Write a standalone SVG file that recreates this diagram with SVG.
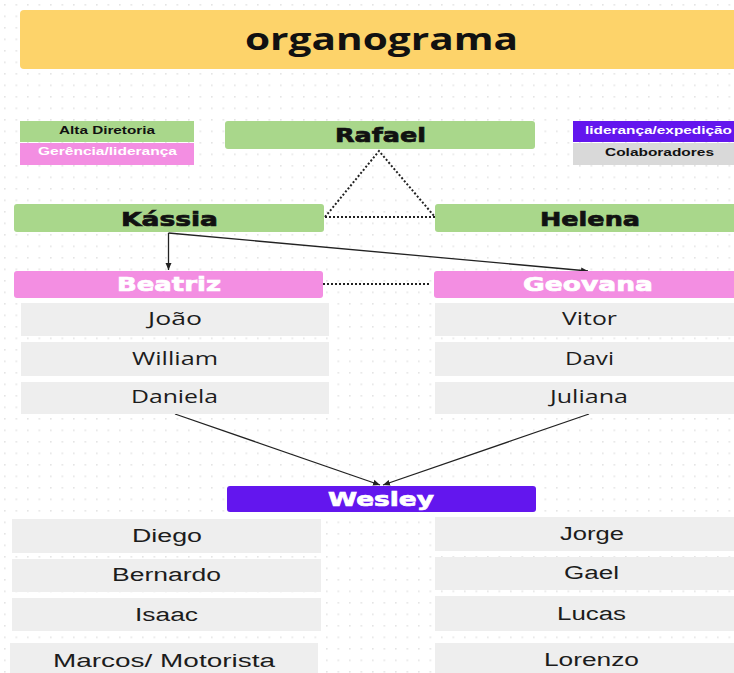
<svg xmlns="http://www.w3.org/2000/svg" width="734" height="673" viewBox="0 0 734 673">
<defs>
<pattern id="dots" x="4" y="4" width="11.5" height="11.5" patternUnits="userSpaceOnUse">
<rect x="0" y="0" width="1.6" height="1.6" fill="#e4e4e4"/>
</pattern>
<marker id="arr" markerWidth="8" markerHeight="8" refX="7" refY="4" orient="auto" markerUnits="userSpaceOnUse">
<path d="M0,1 L7,4 L0,7 Z" fill="#222"/>
</marker>
<style>
.green{fill:#a9d78b}
.pink{fill:#f38ee2}
.purple{fill:#6316ee}
.grey{fill:#eeeeee}
.lgrey{fill:#d9d9d9}
.hdr{font-family:"DejaVu Sans","Liberation Sans",sans-serif;font-weight:bold;font-size:20px;text-anchor:middle;stroke-width:0.7px}
.dark{fill:#111}
.hdr.dark{stroke:#111}
.white{fill:#ffffff}
.hdr.white{stroke:#ffffff}
.name{font-family:"Open Sans","Noto Sans",sans-serif;font-size:18px;fill:#1c1c1c;text-anchor:middle}
.name2{font-family:"Liberation Sans",Arial,sans-serif;font-size:18px;fill:#1c1c1c;text-anchor:middle}
.leg{font-family:"Liberation Sans",Arial,sans-serif;font-weight:bold;font-size:10.5px;text-anchor:middle}
.dot{fill:none;stroke:#222;stroke-width:2;stroke-dasharray:2 2}
.ln{fill:none;stroke:#222;stroke-width:1.3}
</style>
</defs>
<rect x="0" y="0" width="734" height="673" fill="#ffffff"/>
<rect x="0" y="0" width="734" height="673" fill="url(#dots)"/>

<g id="title">
<rect x="20" y="10" width="730" height="59" rx="4" fill="#fdd36a"/>
<text x="381.5" y="50" font-family="'Open Sans','Noto Sans',sans-serif" font-weight="bold" font-size="30" text-anchor="middle" fill="#111" textLength="273" lengthAdjust="spacingAndGlyphs">organograma</text>
</g>

<g id="legend-alta">
<rect x="20" y="121" width="174" height="21" class="green"/>
<text x="107" y="134" class="leg dark" font-weight="normal" textLength="96" lengthAdjust="spacingAndGlyphs">Alta Diretoria</text>
</g>
<g id="legend-gerencia">
<rect x="20" y="143" width="174" height="22" class="pink"/>
<text x="107.5" y="155" class="leg white" textLength="139" lengthAdjust="spacingAndGlyphs">Gerência/liderança</text>
</g>
<g id="legend-lideranca">
<rect x="573" y="121" width="170" height="21" class="purple"/>
<text x="658.5" y="134" class="leg white" textLength="147" lengthAdjust="spacingAndGlyphs">liderança/expedição</text>
</g>
<g id="legend-colab">
<rect x="573" y="143" width="170" height="22" class="lgrey"/>
<text x="659.5" y="156" class="leg dark" font-weight="normal" textLength="109" lengthAdjust="spacingAndGlyphs">Colaboradores</text>
</g>

<g id="connectors">
<polyline points="325,217 379,151 435,217" class="dot"/>
<line x1="325" y1="217" x2="435" y2="217" class="dot"/>
<line x1="323" y1="284" x2="431" y2="284" class="dot"/>
<line x1="168.5" y1="233" x2="168.5" y2="270" class="ln" marker-end="url(#arr)"/>
<line x1="168.5" y1="233" x2="588" y2="271" class="ln" marker-end="url(#arr)"/>
<line x1="175" y1="414" x2="380" y2="485" class="ln" marker-end="url(#arr)"/>
<line x1="589" y1="414" x2="383" y2="485" class="ln" marker-end="url(#arr)"/>
</g>

<g id="rafael">
<rect x="225" y="121" width="310" height="28" rx="3" class="green"/>
<text x="380.5" y="142" class="hdr dark" textLength="91" lengthAdjust="spacingAndGlyphs">Rafael</text>
</g>
<g id="kassia">
<rect x="14" y="204" width="310" height="28" rx="3" class="green"/>
<text x="169.5" y="226" class="hdr dark" font-size="21" textLength="97" lengthAdjust="spacingAndGlyphs">Kássia</text>
</g>
<g id="helena">
<rect x="435" y="204" width="310" height="28" rx="3" class="green"/>
<text x="590" y="226" class="hdr dark" font-size="21" textLength="100" lengthAdjust="spacingAndGlyphs">Helena</text>
</g>
<g id="beatriz">
<rect x="14" y="271" width="309" height="27" rx="3" class="pink"/>
<text x="169" y="291" class="hdr white" font-size="21" textLength="104" lengthAdjust="spacingAndGlyphs">Beatriz</text>
</g>
<g id="geovana">
<rect x="434" y="271" width="310" height="27" rx="3" class="pink"/>
<text x="588" y="291" class="hdr white" font-size="21" textLength="130" lengthAdjust="spacingAndGlyphs">Geovana</text>
</g>

<g id="joao"><rect x="21" y="303" width="308" height="33" class="grey"/><text x="175" y="325" class="name" textLength="54" lengthAdjust="spacingAndGlyphs">João</text></g>
<g id="william"><rect x="21" y="342" width="308" height="34" class="grey"/><text x="175" y="365" class="name" textLength="86" lengthAdjust="spacingAndGlyphs">William</text></g>
<g id="daniela"><rect x="21" y="382" width="308" height="32" class="grey"/><text x="174.5" y="403" class="name" textLength="87" lengthAdjust="spacingAndGlyphs">Daniela</text></g>
<g id="vitor"><rect x="435" y="303" width="310" height="33" class="grey"/><text x="589.5" y="325" class="name" textLength="55" lengthAdjust="spacingAndGlyphs">Vitor</text></g>
<g id="davi"><rect x="435" y="342" width="310" height="34" class="grey"/><text x="589.5" y="365" class="name" textLength="49" lengthAdjust="spacingAndGlyphs">Davi</text></g>
<g id="juliana"><rect x="435" y="382" width="310" height="32" class="grey"/><text x="589" y="403" class="name" textLength="78" lengthAdjust="spacingAndGlyphs">Juliana</text></g>

<g id="wesley">
<rect x="227" y="486" width="309" height="26" rx="3" class="purple"/>
<text x="381" y="506" class="hdr white" font-size="21" textLength="106" lengthAdjust="spacingAndGlyphs">Wesley</text>
</g>

<g id="diego"><rect x="12" y="519" width="309" height="34" class="grey"/><text x="167" y="542" class="name2" textLength="70" lengthAdjust="spacingAndGlyphs">Diego</text></g>
<g id="bernardo"><rect x="12" y="559" width="309" height="33" class="grey"/><text x="166.5" y="581" class="name2" textLength="109" lengthAdjust="spacingAndGlyphs">Bernardo</text></g>
<g id="isaac"><rect x="12" y="598" width="309" height="33" class="grey"/><text x="166.5" y="621" class="name2" textLength="63" lengthAdjust="spacingAndGlyphs">Isaac</text></g>
<g id="marcos"><rect x="10" y="643" width="308" height="35" class="grey"/><text x="164" y="667" class="name2" textLength="222" lengthAdjust="spacingAndGlyphs">Marcos/ Motorista</text></g>
<g id="jorge"><rect x="435" y="517" width="310" height="34" class="grey"/><text x="592" y="540" class="name2" textLength="64" lengthAdjust="spacingAndGlyphs">Jorge</text></g>
<g id="gael"><rect x="435" y="557" width="310" height="33" class="grey"/><text x="591.5" y="579" class="name2" textLength="55" lengthAdjust="spacingAndGlyphs">Gael</text></g>
<g id="lucas"><rect x="435" y="596" width="310" height="35" class="grey"/><text x="591.5" y="620" class="name2" textLength="69" lengthAdjust="spacingAndGlyphs">Lucas</text></g>
<g id="lorenzo"><rect x="435" y="643" width="310" height="35" class="grey"/><text x="591.5" y="666" class="name2" textLength="95" lengthAdjust="spacingAndGlyphs">Lorenzo</text></g>
</svg>
